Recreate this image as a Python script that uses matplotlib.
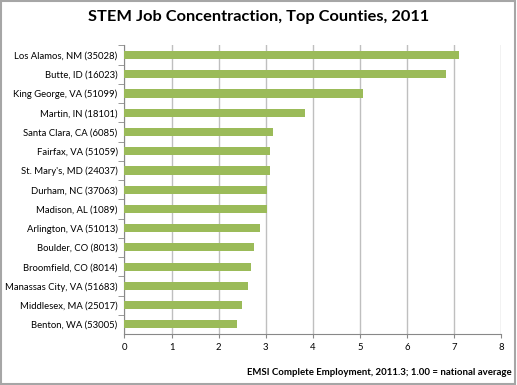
import matplotlib.pyplot as plt
from matplotlib.patches import Rectangle

counties = ['Los Alamos, NM (35028)', 'Butte, ID (16023)', 'King George, VA (51099)',
            'Martin, IN (18101)', 'Santa Clara, CA (6085)', 'Fairfax, VA (51059)',
            "St. Mary's, MD (24037)", 'Durham, NC (37063)', 'Madison, AL (1089)',
            'Arlington, VA (51013)', 'Boulder, CO (8013)', 'Broomfield, CO (8014)',
            'Manassas City, VA (51683)', 'Middlesex, MA (25017)', 'Benton, WA (53005)']
values = [7.10, 6.83, 5.07, 3.84, 3.16, 3.09, 3.09, 3.02, 3.02, 2.88,
          2.76, 2.69, 2.63, 2.50, 2.39]
xticks = [0, 1, 2, 3, 4, 5, 6, 7, 8]

plt.rcParams['font.family'] = ['Lato', 'DejaVu Sans']

fig = plt.figure(figsize=(5.17, 3.85), dpi=100)
ax = fig.add_axes([0.2408, 0.1325, 0.7282, 0.7495])

pos = list(range(len(counties)))
ax.barh(pos, values, height=0.42, color='#9BBB59', zorder=3)
ax.set_ylim(len(counties) - 0.5, -0.5)
ax.set_xlim(0, 8)
ax.set_xticks(xticks)
ax.set_yticks(pos)
ax.set_yticklabels(counties, fontsize=6.8)
ax.tick_params(axis='y', length=0, pad=5)
ax.tick_params(axis='x', labelsize=6.8, length=3, color='#888888', pad=3.5)
ax.set_yticks([p + 0.5 for p in pos[:-1]] + [-0.5], minor=True)
ax.tick_params(axis='y', which='minor', length=4, color='#888888')
ax.grid(axis='x', color='#bfbfbf', linewidth=1, zorder=0)
for side in ['top', 'right']:
    ax.spines[side].set_visible(False)
for side in ['left', 'bottom']:
    ax.spines[side].set_color('#888888')

fig.text(0.5, 0.955, 'STEM Job Concentraction, Top Counties, 2011',
         ha='center', va='center', fontsize=11.8, fontweight='bold')
fig.text(0.99, 0.032, 'EMSI Complete Employment, 2011.3; 1.00 = national average',
         ha='right', va='center', fontsize=6.9, fontweight='bold')

fig.patches.append(Rectangle((0.002, 0.003), 0.994, 0.994, transform=fig.transFigure,
                             fill=False, edgecolor='#a6a6a6', linewidth=1.5))

fig.savefig('out.png', dpi=100)
